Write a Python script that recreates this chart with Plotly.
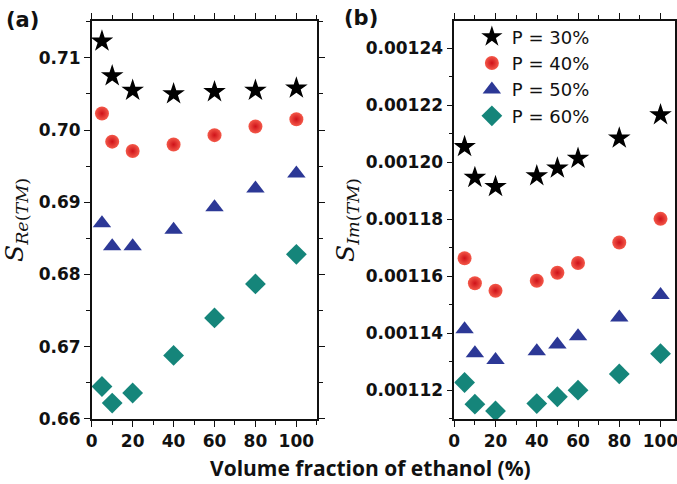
import plotly.graph_objects as go

# ---- data ----
x_a = [5, 10, 20, 40, 60, 80, 100]
a_p30 = [0.7123, 0.7075, 0.7055, 0.7050, 0.7053, 0.7055, 0.7058]
a_p40 = [0.7023, 0.6984, 0.6971, 0.6980, 0.6993, 0.7005, 0.7015]
a_p50 = [0.6871, 0.6839, 0.6839, 0.6862, 0.6893, 0.6919, 0.6940]
a_p60 = [0.6645, 0.6622, 0.6636, 0.6688, 0.6740, 0.6787, 0.6828]

x_b = [5, 10, 20, 40, 50, 60, 80, 100]
b_p30 = [0.0012055, 0.0011947, 0.0011915, 0.0011953, 0.0011980, 0.0012014, 0.0012085, 0.0012167]
b_p40 = [0.0011664, 0.0011576, 0.0011550, 0.0011585, 0.0011613, 0.0011647, 0.0011719, 0.0011802]
b_p50 = [0.0011415, 0.0011331, 0.0011307, 0.0011338, 0.0011361, 0.0011390, 0.0011456, 0.0011535]
b_p60 = [0.0011228, 0.0011152, 0.0011128, 0.0011154, 0.0011178, 0.0011201, 0.0011258, 0.0011329]

series_names = ["P = 30%", "P = 40%", "P = 50%", "P = 60%"]
x_tickvals = [0, 20, 40, 60, 80, 100]

# ---- styles ----
styles = [
    dict(symbol="star", color="#000000", size=17),
    dict(symbol="circle", color="#f4594a", size=14, gradient=dict(type="radial", color="#cf1219")),
    dict(symbol="triangle-up", color="#2c3896", size=16),
    dict(symbol="diamond", color="#15857a", size=16),
]

fig = go.Figure()
for ys, name, st in zip([a_p30, a_p40, a_p50, a_p60], series_names, styles):
    fig.add_trace(go.Scatter(x=x_a, y=ys, mode="markers", name=name, showlegend=False,
                             marker=dict(line=dict(width=0), **st), xaxis="x", yaxis="y"))
for ys, name, st in zip([b_p30, b_p40, b_p50, b_p60], series_names, styles):
    fig.add_trace(go.Scatter(x=x_b, y=ys, mode="markers", name=name, showlegend=True,
                             marker=dict(line=dict(width=0), **st), xaxis="x2", yaxis="y2"))

tickfont = dict(family="DejaVu Sans", size=17, color="#111111", weight="bold")
common = dict(showline=True, linecolor="#111111", linewidth=1.5, mirror="ticks",
              ticks="outside", ticklen=6, tickwidth=1.3, tickcolor="#111111",
              showgrid=False, zeroline=False, tickfont=tickfont, automargin=False,
              ticklabeloverflow="allow")

xminor = dict(dtick=10, ticks="outside", ticklen=4, tickwidth=1.2, tickcolor="#111111", showgrid=False)

fig.update_layout(
    width=677, height=484,
    margin=dict(l=0, r=0, t=0, b=0),
    paper_bgcolor="white", plot_bgcolor="white",
    xaxis=dict(domain=[0.1355, 0.468], range=[0, 110], tickvals=x_tickvals,
               minor=xminor, anchor="y", **common),
    yaxis=dict(domain=[0.1343, 0.9566], range=[0.66, 0.7151], dtick=0.01, tick0=0.66,
               tickformat=".2f", anchor="x",
               minor=dict(dtick=0.005, ticks="outside", ticklen=4, tickwidth=1.2, tickcolor="#111111", showgrid=False),
               title=dict(text="<i>S</i><sub><i>Re</i>(<i>TM</i>)</sub>", standoff=10,
                          font=dict(family="DejaVu Serif", size=25, color="#111111")),
               **common),
    xaxis2=dict(domain=[0.671, 0.997], range=[0, 107], tickvals=x_tickvals,
                minor=xminor, anchor="y2", **common),
    yaxis2=dict(domain=[0.1343, 0.9566], range=[0.00111, 0.0012496], dtick=0.00002, tick0=0.00112,
                tickformat=".5f", anchor="x2",
                minor=dict(dtick=0.00001, ticks="outside", ticklen=4, tickwidth=1.2, tickcolor="#111111", showgrid=False),
                title=dict(text="<i>S</i><sub><i>Im</i>(<i>TM</i>)</sub>", standoff=4,
                           font=dict(family="DejaVu Serif", size=25, color="#111111")),
                **common),
    legend=dict(x=0.697, y=0.962, xanchor="left", yanchor="top", bgcolor="rgba(0,0,0,0)",
                font=dict(family="DejaVu Sans", size=18, color="#111111"), tracegroupgap=0,
                itemsizing="trace"),
    showlegend=True,
)

fig.add_annotation(text="Volume fraction of ethanol (%)", x=370 / 677, y=1 - 468 / 484,
                   xref="paper", yref="paper", showarrow=False, xanchor="center", yanchor="middle",
                   font=dict(family="Open Sans", size=21, color="#111111", weight="bold"))
fig.add_annotation(text="(a)", x=4 / 677, y=1 - 20 / 484, xref="paper", yref="paper", showarrow=False,
                   xanchor="left", yanchor="middle",
                   font=dict(family="DejaVu Sans", size=21, color="#111111", weight="bold"))
fig.add_annotation(text="(b)", x=342 / 677, y=1 - 18 / 484, xref="paper", yref="paper", showarrow=False,
                   xanchor="left", yanchor="middle",
                   font=dict(family="DejaVu Sans", size=21, color="#111111", weight="bold"))

fig.write_html("out.html")
